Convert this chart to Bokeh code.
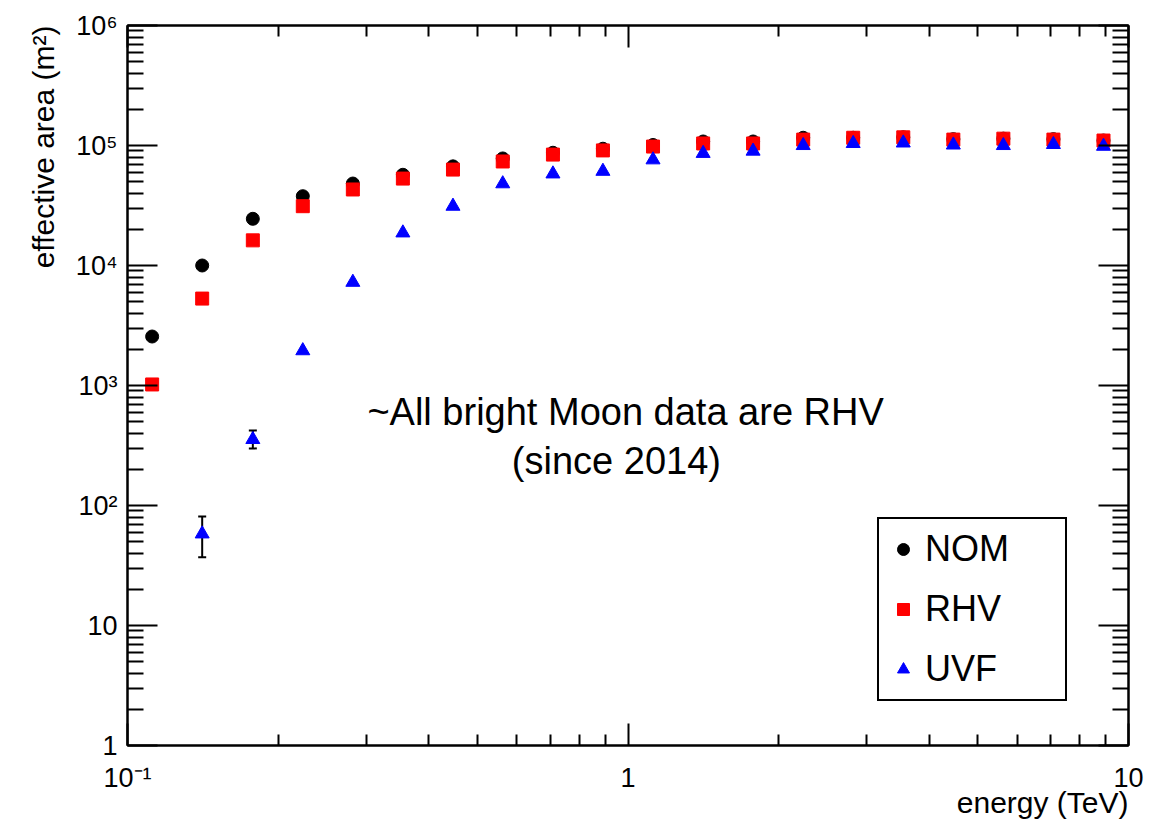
from bokeh.plotting import figure
from bokeh.models import (Range1d, LogAxis, FixedTicker, Label, Legend, LegendItem,
                          ColumnDataSource, Whisker, TeeHead, Title)
from bokeh.embed import file_html
from bokeh.resources import INLINE

# ---------------- data ----------------
energy = [0.112, 0.141, 0.178, 0.224, 0.282, 0.355, 0.447, 0.562, 0.708, 0.891,
          1.122, 1.413, 1.778, 2.239, 2.818, 3.548, 4.467, 5.623, 7.079, 8.913]
nom = [2560, 10000, 24500, 37800, 48200, 57000, 67000, 78000, 87000, 94000,
       101000, 108000, 108000, 116000, 116000, 117000, 113000, 114000, 113000, 110000]
rhv = [1020, 5300, 16200, 31200, 43000, 53000, 63000, 73600, 84000, 91000,
       98000, 104000, 104000, 112000, 116000, 117000, 112000, 114000, 112000, 110000]
uvf_energy = energy[1:]
uvf = [58, 355, 1950, 7250, 18700, 31200, 48000, 58000, 61000, 76000,
       86000, 89800, 100000, 104000, 105000, 101000, 100000, 102000, 98600]
err_energy = [0.141, 0.178]
err_low = [37, 299]
err_high = [81, 422]

x_major = [0.1, 1, 10]
x_minor = [0.2, 0.3, 0.4, 0.5, 0.6, 0.7, 0.8, 0.9, 2, 3, 4, 5, 6, 7, 8, 9]
x_labels = ["10\u207b\u00b9", "1", "10"]
y_major = [1, 10, 100, 1000, 10000, 100000, 1000000]
y_minor = [m * d for d in [1, 10, 100, 1000, 10000, 100000] for m in range(2, 10)]
y_labels = ["1", "10", "10\u00b2", "10\u00b3", "10\u2074", "10\u2075", "10\u2076"]

FONT = "Liberation Sans"

p = figure(width=1151, height=820, x_axis_type="log", y_axis_type="log",
           x_range=Range1d(0.1, 10), y_range=Range1d(1, 1e6),
           output_backend="svg", toolbar_location=None,
           min_border_left=127, min_border_right=23, min_border_top=25, min_border_bottom=75)
p.xgrid.visible = False
p.ygrid.visible = False
p.outline_line_color = "black"
p.outline_line_width = 2
p.background_fill_color = "white"
p.border_fill_color = "white"

xt = FixedTicker(ticks=x_major, minor_ticks=x_minor)
yt = FixedTicker(ticks=y_major, minor_ticks=y_minor)

def style_axis(ax, major_len, minor_len, labels=True):
    ax.axis_line_color = "black"
    ax.axis_line_width = 2
    ax.major_tick_line_color = "black"
    ax.minor_tick_line_color = "black"
    ax.major_tick_line_width = 2
    ax.minor_tick_line_width = 2
    ax.major_tick_in = major_len
    ax.major_tick_out = 0
    ax.minor_tick_in = minor_len
    ax.minor_tick_out = 0
    ax.major_label_text_font = FONT
    if labels:
        ax.major_label_text_font_size = "27px"
        ax.major_label_text_color = "black"
    else:
        ax.major_label_text_font_size = "6px"
        ax.major_label_text_alpha = 0
        ax.major_label_standoff = 0

xa = p.xaxis[0]
xa.ticker = xt
style_axis(xa, 22, 11)
xa.major_label_standoff = 17
xa.major_label_overrides = {v: s for v, s in zip(x_major, x_labels)}

ya = p.yaxis[0]
ya.ticker = yt
style_axis(ya, 30, 16)
ya.major_label_standoff = 10
ya.major_label_overrides = {v: s for v, s in zip(y_major, y_labels)}

top = LogAxis(ticker=xt)
style_axis(top, 22, 11, labels=False)
p.add_layout(top, "above")
right = LogAxis(ticker=yt)
style_axis(right, 30, 16, labels=False)
p.add_layout(right, "right")

# axis titles (ROOT style, right-aligned)
xtitle = Title(text="energy (TeV)", align="right", text_font=FONT, text_font_size="30px",
               text_font_style="normal", text_color="black", standoff=-24)
p.add_layout(xtitle, "below")
ytitle = Title(text="effective area (m\u00b2)", align="right", text_font=FONT,
               text_font_size="30px", text_font_style="normal", text_color="black", standoff=25)
p.add_layout(ytitle, "left")

# error bars
esrc = ColumnDataSource(dict(x=err_energy, lo=err_low, hi=err_high))
wk = Whisker(source=esrc, base="x", lower="lo", upper="hi", dimension="height",
             line_color="black", line_width=2,
             upper_head=TeeHead(size=8, line_color="black", line_width=2),
             lower_head=TeeHead(size=8, line_color="black", line_width=2))
p.add_layout(wk)

r_nom = p.scatter(energy, nom, marker="circle", size=13, fill_color="black", line_color="black")
r_rhv = p.scatter(energy, rhv, marker="square", size=13, fill_color="#ff0000", line_color="#ff0000")
r_uvf = p.scatter(uvf_energy, uvf, marker="triangle", size=14, fill_color="#0000ff", line_color="#0000ff")

legend = Legend(items=[LegendItem(label="NOM", renderers=[r_nom]),
                       LegendItem(label="RHV", renderers=[r_rhv]),
                       LegendItem(label="UVF", renderers=[r_uvf])],
                location=(750, 44))
legend.label_text_font = FONT
legend.label_text_font_size = "36px"
legend.label_text_color = "black"
legend.border_line_color = "black"
legend.border_line_alpha = 1
legend.border_line_width = 2
legend.background_fill_color = "white"
legend.background_fill_alpha = 1
legend.padding = 9
legend.spacing = 18
legend.glyph_width = 30
legend.glyph_height = 30
legend.label_height = 20
legend.label_width = 131
legend.label_standoff = 7
legend.margin = 0
p.add_layout(legend, "center")

# annotation
p.add_layout(Label(x=0.989, y=607, text="~All bright Moon data are RHV", text_align="center",
                   text_baseline="alphabetic", text_font=FONT, text_font_size="38px",
                   text_color="black"))
p.add_layout(Label(x=0.948, y=237, text="(since 2014)", text_align="center",
                   text_baseline="alphabetic", text_font=FONT, text_font_size="38px",
                   text_color="black"))

open("out.html", "w").write(file_html(p, INLINE))
